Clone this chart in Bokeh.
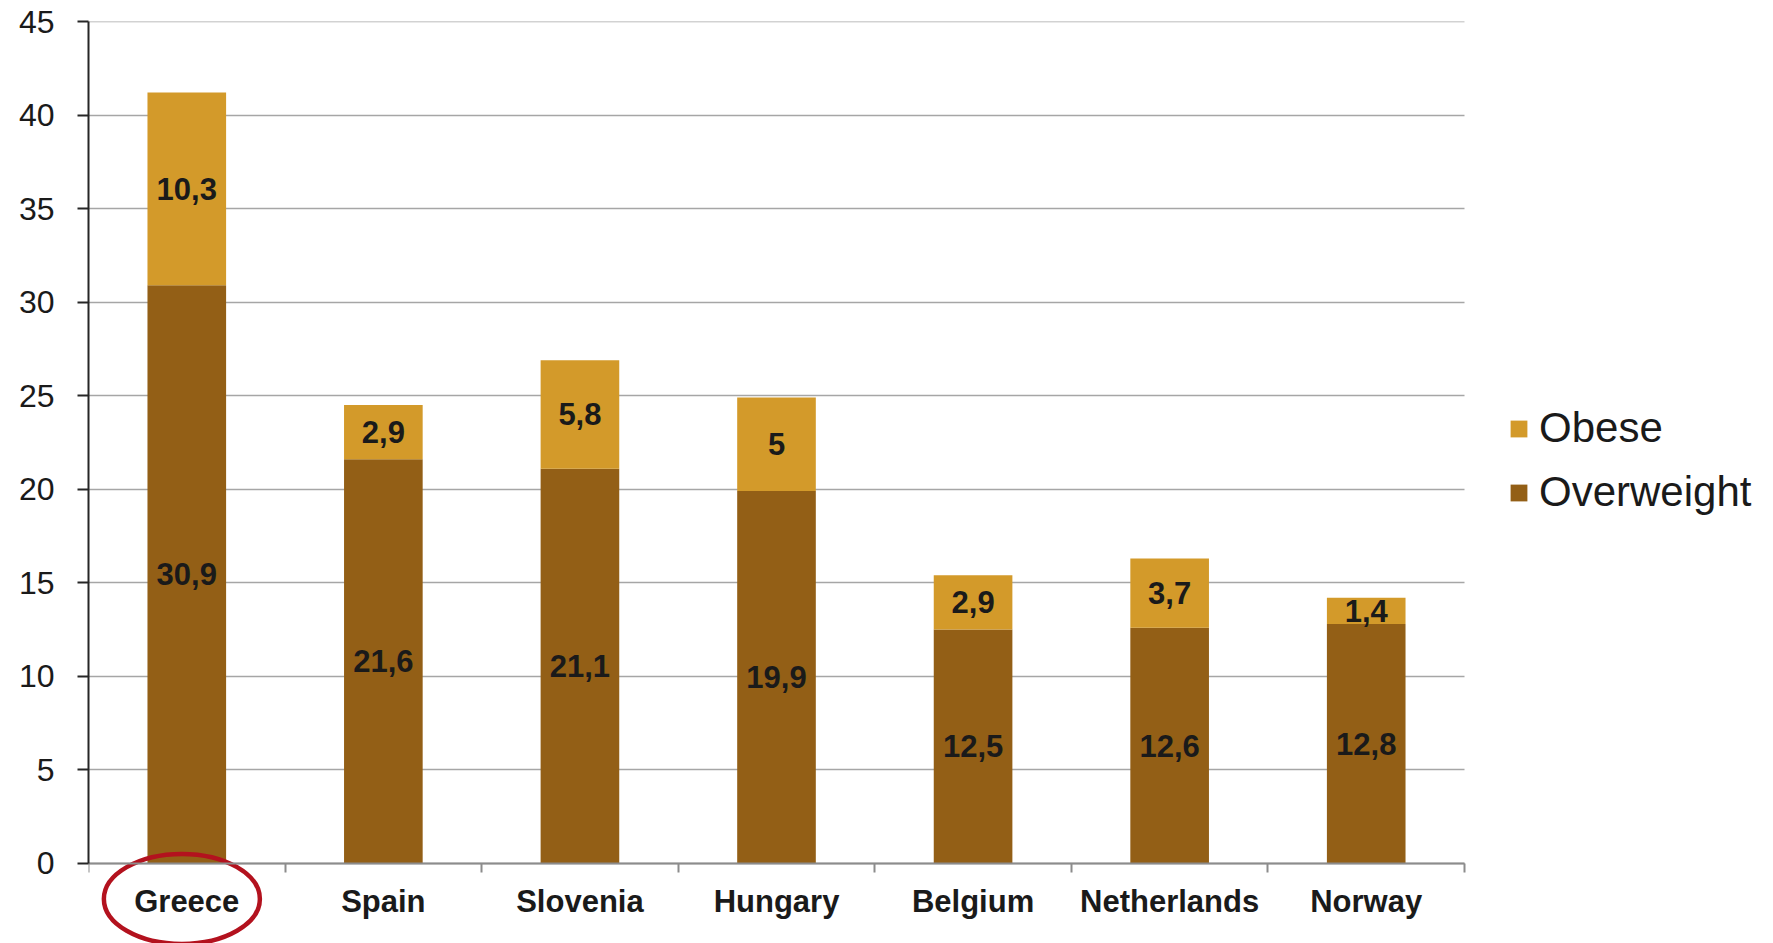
from bokeh.plotting import figure
from bokeh.models import (ColumnDataSource, Range1d, LinearAxis, FixedTicker, Legend, LegendItem)
from bokeh.embed import file_html
from bokeh.resources import INLINE
from bokeh.core.properties import value

# ---- data ----
countries = ["Greece", "Spain", "Slovenia", "Hungary", "Belgium", "Netherlands", "Norway"]
overweight = [30.9, 21.6, 21.1, 19.9, 12.5, 12.6, 12.8]
obese = [10.3, 2.9, 5.8, 5.0, 2.9, 3.7, 1.4]
y_ticks = [0, 5, 10, 15, 20, 25, 30, 35, 40, 45]
highlight = ["Greece"]

# ---- styles ----
C_OVER = "#935F16"
C_OBESE = "#D39A2A"
FONT = "Liberation Sans"
TXT = "#1a1a1a"


def fmt(v):
    return f"{v:g}".replace(".", ",")


n = len(countries)
pos = [i + 0.5 for i in range(n)]          # category centres on the x scale
src = ColumnDataSource(dict(x=pos, country=countries, Overweight=overweight, Obese=obese))

lab_x = pos + pos
lab_y = [o / 2 for o in overweight] + [o + b / 2 for o, b in zip(overweight, obese)]
lab_t = [fmt(v) for v in overweight] + [fmt(v) for v in obese]
lab_src = ColumnDataSource(dict(x=lab_x, y=lab_y, t=lab_t))

# frame spans the whole width to the right edge; categories occupy 0..n of it
x_end = n * (1773 - 88) / 1376.0
p = figure(width=1773, height=943, output_backend="svg", toolbar_location=None,
           x_range=Range1d(0, x_end), y_range=Range1d(-4.28, 45.001),
           x_axis_location=None, y_axis_location="left",
           min_border_left=88, min_border_right=0, min_border_top=21, min_border_bottom=0)
p.outline_line_color = None
p.background_fill_color = "white"
p.border_fill_color = "white"

# y axis
ya = p.yaxis[0]
ya.ticker = FixedTicker(ticks=y_ticks)
ya.bounds = (0, 45)
ya.major_tick_in = 0
ya.major_tick_out = 11
ya.major_tick_line_width = 2
ya.major_tick_line_color = "#262626"
ya.minor_tick_line_color = None
ya.axis_line_color = "#262626"
ya.axis_line_width = 2
ya.major_label_standoff = 23
ya.major_label_text_font = FONT
ya.major_label_text_font_size = "32px"
ya.major_label_text_color = TXT

p.xgrid.visible = False
yg = p.ygrid[0]
yg.ticker = FixedTicker(ticks=y_ticks)
yg.grid_line_color = "#a6a6a6"
yg.grid_line_width = 1.5
if "cross_bounds" in yg.properties():
    yg.cross_bounds = (0, n)

# bars
rs = p.vbar_stack(["Overweight", "Obese"], x="x", width=0.4, source=src,
                  color=[C_OVER, C_OBESE], line_color=None)

# value labels
p.text(x="x", y="y", text="t", source=lab_src, text_align="center", text_baseline="middle",
       text_font=value(FONT), text_font_style="bold", text_font_size="31px", text_color=TXT)

# x axis line + ticks at category edges
edge_axis = LinearAxis(fixed_location=0, bounds=(0, n),
                       ticker=FixedTicker(ticks=list(range(n + 1))),
                       major_tick_in=0, major_tick_out=9, major_tick_line_color="#8c8c8c",
                       major_tick_line_width=2, axis_line_color="#8c8c8c", axis_line_width=2,
                       minor_tick_line_color=None, major_label_text_color=None)
p.add_layout(edge_axis, "below")

# category labels
cat_axis = LinearAxis(fixed_location=0, ticker=FixedTicker(ticks=pos),
                      major_label_overrides={x: c for x, c in zip(pos, countries)},
                      major_tick_line_color=None, axis_line_color=None, minor_tick_line_color=None,
                      major_tick_out=0, major_tick_in=0, major_label_standoff=21,
                      major_label_text_font=FONT, major_label_text_font_size="31px",
                      major_label_text_font_style="bold", major_label_text_color=TXT)
p.add_layout(cat_axis, "below")

# highlight ellipse
hl_x = [pos[countries.index(c)] - 0.025 for c in highlight]
hl_src = ColumnDataSource(dict(x=hl_x, y=[-1.9] * len(hl_x)))
p.ellipse(x="x", y="y", width=156, height=90,
          width_units="screen", height_units="screen", source=hl_src,
          fill_color=None, line_color="#B3121E", line_width=4.5)

# legend
legend = Legend(items=[LegendItem(label="Obese", renderers=[rs[1]]),
                       LegendItem(label="Overweight", renderers=[rs[0]])],
                location=(1420, 427), glyph_width=21, glyph_height=21, label_height=46,
                spacing=16, label_standoff=10, padding=10, margin=0,
                label_text_font=FONT, label_text_font_size="42px", label_text_color=TXT,
                border_line_color=None, background_fill_alpha=0)
p.add_layout(legend, "center")

open("out.html", "w").write(file_html(p, INLINE))
